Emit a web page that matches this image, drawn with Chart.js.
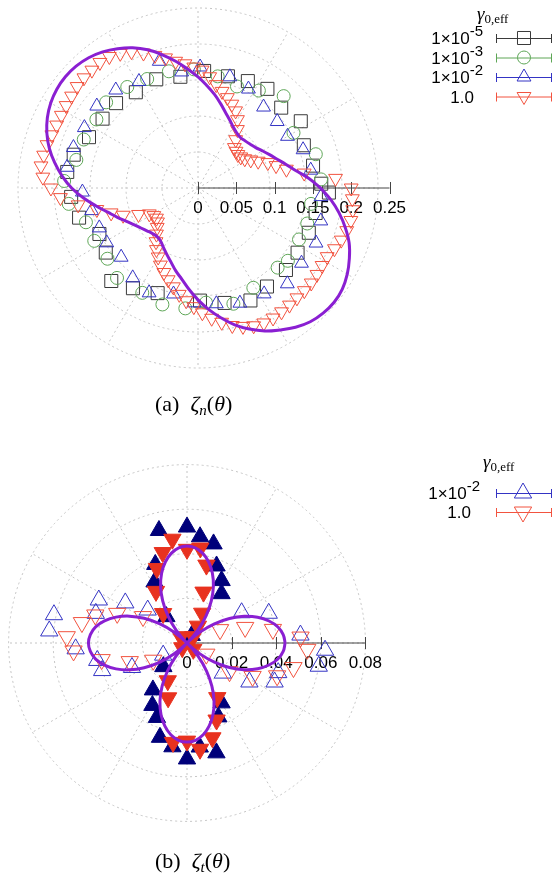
<!DOCTYPE html>
<html>
<head>
<meta charset="utf-8">
<title>zeta polar plots</title>
<script src="https://cdn.jsdelivr.net/npm/chart.js@4.4.1/dist/chart.umd.min.js"></script>
<style>
  html, body { margin: 0; padding: 0; background: #fff; }
  #wrap { position: relative; width: 556px; height: 880px; overflow: hidden; }
  canvas { position: absolute; left: 0; }
  #polarN { top: 0; }
  #polarT { top: 440px; }
  .cap { position: absolute; font-family: "Liberation Serif", "DejaVu Serif", serif; font-size: 22px; line-height: 22px; white-space: nowrap; }
  .cap sub { font-size: 15px; vertical-align: -4px; line-height: 0; }
</style>
</head>
<body>
<div id="wrap">
  <canvas id="polarN" width="556" height="440"></canvas>
  <canvas id="polarT" width="556" height="440"></canvas>
  <div class="cap" style="left:155px; top:393px">(a)&nbsp;&nbsp;<i>ζ<sub>n</sub></i>(<i>θ</i>)</div>
  <div class="cap" style="left:155px; top:850px">(b)&nbsp;&nbsp;<i>ζ<sub>t</sub></i>(<i>θ</i>)</div>
</div>
<script>
'use strict';

// ---- panel (a): zeta_n(theta), angles in degrees ----
var thetaSq = [2, 11, 22, 33, 44, 55, 65, 75, 87, 99, 111, 123, 134, 144, 155, 165, 173, 184, 194, 205, 215, 227, 237, 249, 271, 283, 295, 305, 317, 327, 338, 348, 358];
var rSq = [0.161, 0.153, 0.149, 0.160, 0.151, 0.158, 0.154, 0.151, 0.153, 0.147, 0.152, 0.149, 0.154, 0.154, 0.157, 0.168, 0.172, 0.166, 0.160, 0.142, 0.147, 0.166, 0.156, 0.147, 0.147, 0.154, 0.162, 0.157, 0.157, 0.155, 0.156, 0.157, 0.171];

var thetaCirc = [4, 16, 30, 47, 58, 69, 80, 92, 104, 115, 125, 137, 146, 157, 167, 177, 187, 197, 207, 218, 228, 242, 253, 264, 274, 287, 299, 315, 321, 333, 342, 352];
var rCirc = [0.161, 0.160, 0.144, 0.164, 0.150, 0.142, 0.148, 0.155, 0.157, 0.157, 0.161, 0.164, 0.160, 0.162, 0.163, 0.175, 0.170, 0.153, 0.152, 0.150, 0.158, 0.155, 0.159, 0.158, 0.150, 0.158, 0.149, 0.147, 0.151, 0.148, 0.150, 0.149];

var thetaTri = [9, 20, 30, 40, 51, 63, 74, 89, 98, 107, 119, 130, 141, 152, 162, 171, 182, 192, 202, 211, 222, 234, 245, 257, 268, 279, 290, 302, 313, 324, 335, 345, 356];
var rTri = [0.149, 0.146, 0.135, 0.135, 0.136, 0.145, 0.151, 0.158, 0.153, 0.173, 0.159, 0.167, 0.170, 0.168, 0.171, 0.173, 0.151, 0.142, 0.139, 0.139, 0.135, 0.145, 0.151, 0.142, 0.150, 0.153, 0.160, 0.163, 0.171, 0.167, 0.170, 0.166, 0.161];

var thetaInv = [0, 4, 8, 12, 16, 20, 24, 28, 32, 36, 40, 44, 48, 52, 56, 60, 64, 68, 72, 76, 80, 84, 88, 92, 96, 100, 104, 108, 112, 116, 120, 124, 128, 132, 136, 140, 144, 148, 152, 156, 160, 164, 168, 172, 176, 180, 184, 188, 192, 196, 200, 204, 208, 212, 216, 220, 224, 228, 232, 236, 240, 244, 248, 252, 256, 260, 264, 268, 272, 276, 280, 284, 288, 292, 296, 300, 304, 308, 312, 316, 320, 324, 328, 332, 336, 340, 344, 348, 352, 356];
var rInv = [0.200, 0.180, 0.140, 0.118, 0.106, 0.097, 0.086, 0.078, 0.072, 0.069, 0.068, 0.069, 0.071, 0.080, 0.092, 0.103, 0.112, 0.118, 0.124, 0.130, 0.137, 0.146, 0.154, 0.158, 0.163, 0.168, 0.175, 0.182, 0.190, 0.198, 0.203, 0.207, 0.208, 0.207, 0.207, 0.206, 0.204, 0.203, 0.202, 0.202, 0.203, 0.205, 0.206, 0.207, 0.203, 0.192, 0.180, 0.158, 0.135, 0.118, 0.104, 0.085, 0.072, 0.068, 0.067, 0.069, 0.074, 0.081, 0.089, 0.097, 0.104, 0.112, 0.119, 0.126, 0.133, 0.141, 0.148, 0.155, 0.163, 0.171, 0.178, 0.185, 0.190, 0.194, 0.196, 0.196, 0.195, 0.194, 0.193, 0.193, 0.193, 0.192, 0.191, 0.191, 0.195, 0.199, 0.202, 0.204, 0.204, 0.202];

var thetaFitN = [0, 5, 10, 15, 20, 25, 30, 35, 40, 45, 50, 55, 60, 65, 70, 75, 80, 85, 90, 95, 100, 105, 110, 115, 120, 125, 130, 135, 140, 145, 150, 155, 160, 165, 170, 175, 180, 185, 190, 195, 200, 205, 210, 215, 220, 225, 230, 235, 240, 245, 250, 255, 260, 265, 270, 275, 280, 285, 290, 295, 300, 305, 310, 315, 320, 325, 330, 335, 340, 345, 350, 355, 360];
var rFitN = [0.160, 0.145, 0.130, 0.119, 0.110, 0.103, 0.097, 0.092, 0.089, 0.087, 0.086, 0.088, 0.092, 0.098, 0.105, 0.114, 0.124, 0.134, 0.145, 0.156, 0.168, 0.180, 0.192, 0.202, 0.210, 0.217, 0.222, 0.225, 0.226, 0.225, 0.222, 0.217, 0.210, 0.201, 0.190, 0.178, 0.165, 0.150, 0.135, 0.122, 0.112, 0.103, 0.096, 0.091, 0.087, 0.084, 0.083, 0.085, 0.090, 0.096, 0.103, 0.112, 0.121, 0.133, 0.146, 0.159, 0.172, 0.185, 0.196, 0.206, 0.214, 0.222, 0.228, 0.231, 0.232, 0.230, 0.225, 0.218, 0.210, 0.199, 0.187, 0.174, 0.160];

var ringsN = [0.047, 0.094, 0.141, 0.188, 0.235];
var ticksN = [0, 0.05, 0.1, 0.15, 0.2, 0.25];
var tickLabelsN = ['0', '0.05', '0.1', '0.15', '0.2', '0.25'];
var legendBaseN = ['1×10', '1×10', '1×10', '1.0'];
var legendSupN = ['-5', '-3', '-2', ''];

// ---- panel (b): zeta_t(theta), negative values drawn as filled markers ----
var thetaT2 = [4, 20, 29, 55, 58, 61, 69, 75, 83, 90, 104, 112, 118, 128, 140, 147, 154, 162, 168, 175, 183, 191, 198, 204, 207, 225, 234, 241, 248, 254, 262, 270, 277, 285, 293, 300, 320, 328, 336, 342, 350, 357];
var rT2 = [0.051, 0.039, 0.028, -0.027, -0.004, -0.032, -0.037, -0.046, -0.048, -0.052, -0.052, -0.038, -0.031, -0.015, 0.023, 0.033, 0.044, 0.043, 0.061, 0.062, 0.050, 0.041, 0.040, 0.027, 0.012, -0.015, -0.026, -0.032, -0.036, -0.044, -0.047, -0.052, -0.047, -0.051, -0.036, -0.031, 0.021, 0.033, 0.043, 0.043, 0.060, 0.062];

var thetaT0 = [3, 9, 15, 22, 45, 57, 63, 72, 76, 82, 90, 98, 105, 112, 121, 129, 135, 149, 157, 163, 169, 177, 184, 191, 198, 207, 225, 243, 251, 262, 270, 277, 285, 291, 299, 315, 326, 330, 333, 340, 347, 357];
var rT0 = [0.051, 0.039, 0.027, 0.016, -0.004, -0.009, -0.015, -0.024, -0.036, -0.043, -0.042, -0.047, -0.042, -0.036, -0.027, -0.017, -0.004, 0.023, 0.034, 0.043, 0.048, 0.054, 0.051, 0.039, 0.027, 0.017, -0.003, -0.019, -0.026, -0.045, -0.044, -0.048, -0.044, -0.037, -0.028, -0.004, 0.023, 0.010, 0.033, 0.043, 0.049, 0.054];

var thetaFitT = thetaFitN;
var rFitT = [0.0440, 0.0433, 0.0414, 0.0381, 0.0337, 0.0283, 0.0220, 0.0150, 0.0076, 0,
  -0.0078, -0.0152, -0.0223, -0.0287, -0.0341, -0.0385, -0.0418, -0.0438, -0.0444,
  -0.0438, -0.0418, -0.0385, -0.0341, -0.0287, -0.0223, -0.0152, -0.0078, 0,
  0.0077, 0.0151, 0.0222, 0.0285, 0.0339, 0.0383, 0.0416, 0.0435, 0.0442,
  0.0435, 0.0416, 0.0383, 0.0339, 0.0285, 0.0222, 0.0151, 0.0077, 0,
  -0.0076, -0.0149, -0.0218, -0.0280, -0.0333, -0.0376, -0.0408, -0.0428, -0.0435,
  -0.0428, -0.0408, -0.0376, -0.0333, -0.0280, -0.0218, -0.0149, -0.0076, 0,
  0.0076, 0.0150, 0.0220, 0.0283, 0.0337, 0.0381, 0.0414, 0.0433, 0.0440];

var ringsT = [0.02, 0.04, 0.06, 0.08];
var ticksT = [0, 0.02, 0.04, 0.06, 0.08];
var tickLabelsT = ['0', '0.02', '0.04', '0.06', '0.08'];
var legendBaseT = ['1×10', '1.0'];
var legendSupT = ['-2', ''];

var BLACK = '#3a3a3a', GREEN = '#5ea657', BLUE = '#3434c4', RED = '#f2533f';
var NAVY = '#00007a', FILLRED = '#e8321f', PURPLE = '#8a1fd2';

function toXY(th, r, useAbs) {
  return th.map(function(t, i) {
    var a = t * Math.PI / 180, v = useAbs ? Math.abs(r[i]) : r[i];
    return { x: v * Math.cos(a), y: v * Math.sin(a) };
  });
}

function drawMarker(ctx, style, x, y, rad, rot) {
  ctx.beginPath();
  if (style === 'rect') {
    var s = rad * Math.SQRT1_2;
    ctx.rect(x - s, y - s, 2 * s, 2 * s);
  } else if (style === 'circle') {
    ctx.arc(x, y, rad, 0, 2 * Math.PI);
  } else {
    var a = (rot || 0) * Math.PI / 180;
    for (var i = 0; i < 3; i++) {
      var px = x + Math.sin(a) * rad, py = y - Math.cos(a) * rad;
      if (i === 0) ctx.moveTo(px, py); else ctx.lineTo(px, py);
      a += 2 * Math.PI / 3;
    }
    ctx.closePath();
  }
  ctx.stroke();
}

var polarGrid = {
  id: 'polarGrid',
  beforeDatasetsDraw: function(chart, args, opts) {
    var ctx = chart.ctx, xs = chart.scales.x, ys = chart.scales.y;
    var cx = xs.getPixelForValue(0), cy = ys.getPixelForValue(0);
    var k = xs.getPixelForValue(1) - cx;
    var rings = opts.rings, rMax = rings[rings.length - 1] * k;
    ctx.save();
    ctx.strokeStyle = '#c4c4c4';
    ctx.lineWidth = 1;
    ctx.setLineDash([2, 3]);
    rings.forEach(function(r) {
      ctx.beginPath(); ctx.arc(cx, cy, r * k, 0, 2 * Math.PI); ctx.stroke();
    });
    for (var a = 0; a < 360; a += 30) {
      var t = a * Math.PI / 180;
      ctx.beginPath(); ctx.moveTo(cx, cy);
      ctx.lineTo(cx + rMax * Math.cos(t), cy - rMax * Math.sin(t)); ctx.stroke();
    }
    ctx.setLineDash([]);
    // radial axis along theta = 0
    var ticks = opts.ticks;
    ctx.strokeStyle = '#444';
    ctx.beginPath();
    ctx.moveTo(cx + ticks[0] * k, cy);
    ctx.lineTo(cx + ticks[ticks.length - 1] * k, cy);
    ticks.forEach(function(v) {
      var px = Math.round(cx + v * k) + 0.5;
      ctx.moveTo(px, cy - 6); ctx.lineTo(px, cy + 6);
    });
    ctx.stroke();
    ctx.fillStyle = '#000';
    ctx.font = '17px "Liberation Sans", Arial, sans-serif';
    ctx.textAlign = 'center';
    ctx.textBaseline = 'middle';
    ticks.forEach(function(v, i) { ctx.fillText(opts.labels[i], cx + v * k, cy + 20); });
    ctx.restore();
  },
  afterDraw: function(chart, args, opts) {
    var lg = opts.legend, ctx = chart.ctx;
    ctx.save();
    ctx.fillStyle = '#000';
    ctx.textBaseline = 'alphabetic';
    ctx.textAlign = 'left';
    ctx.font = 'italic 19px "Liberation Serif", serif';
    ctx.fillText('γ', lg.titleX, lg.titleY + 5);
    var gw = ctx.measureText('γ').width;
    ctx.font = '13px "Liberation Serif", serif';
    ctx.fillText('0,eff', lg.titleX + gw, lg.titleY + 8);
    lg.base.forEach(function(b, i) {
      var y = lg.y0 + i * lg.dy;
      var sup = lg.sup[i], sw = 9;
      ctx.fillStyle = '#000';
      ctx.textAlign = 'right';
      if (sup) {
        ctx.font = '15px "Liberation Sans", Arial, sans-serif';
        sw = ctx.measureText(sup).width;
        ctx.fillText(sup, lg.textRight, y - 2);
      }
      ctx.font = '17px "Liberation Sans", Arial, sans-serif';
      ctx.fillText(b, lg.textRight - sw, y + 6);
      var c = lg.colors[i];
      ctx.strokeStyle = c;
      ctx.lineWidth = 1;
      ctx.beginPath();
      ctx.moveTo(lg.x0, y + 0.5); ctx.lineTo(lg.x1, y + 0.5);
      ctx.moveTo(lg.x0 + 0.5, y - 4); ctx.lineTo(lg.x0 + 0.5, y + 5);
      ctx.moveTo(lg.x1 - 0.5, y - 4); ctx.lineTo(lg.x1 - 0.5, y + 5);
      ctx.stroke();
      drawMarker(ctx, lg.styles[i], lg.xm, y, lg.radii[i], lg.rots[i]);
    });
    ctx.restore();
  }
};

function makePolar(id, cx, cy, k, datasets, grid) {
  var cv = document.getElementById(id);
  var W = cv.width, H = cv.height;
  return new Chart(cv, {
    type: 'scatter',
    data: { datasets: datasets },
    options: {
      responsive: false,
      animation: false,
      events: [],
      layout: { padding: 0, autoPadding: false },
      scales: {
        x: { type: 'linear', display: false, min: -cx / k, max: (W - cx) / k },
        y: { type: 'linear', display: false, min: -(H - cy) / k, max: cy / k }
      },
      plugins: { legend: { display: false }, tooltip: { enabled: false }, polarGrid: grid }
    },
    plugins: [polarGrid]
  });
}

function markerSet(th, r, style, radius, color, rot) {
  return {
    data: toXY(th, r, false), showLine: false, pointStyle: style, pointRadius: radius,
    pointRotation: rot || 0, pointBorderColor: color, pointBackgroundColor: 'rgba(0,0,0,0)', pointBorderWidth: 1
  };
}

function signedSet(th, r, radius, color, fillColor, rot) {
  return {
    data: toXY(th, r, true), showLine: false, pointStyle: 'triangle', pointRadius: radius, pointRotation: rot || 0,
    pointBorderColor: r.map(function(v) { return v < 0 ? fillColor : color; }),
    pointBackgroundColor: r.map(function(v) { return v < 0 ? fillColor : 'rgba(0,0,0,0)'; }),
    pointBorderWidth: 1
  };
}

function fitSet(th, r) {
  return { data: toXY(th, r, false), showLine: true, borderColor: PURPLE, borderWidth: 3, pointRadius: 0, tension: 0.4, fill: false };
}

makePolar('polarN', 198, 188, 766, [
  fitSet(thetaFitN, rFitN),
  markerSet(thetaInv, rInv, 'triangle', 8, RED, 180),
  markerSet(thetaTri, rTri, 'triangle', 8, BLUE),
  markerSet(thetaCirc, rCirc, 'circle', 6.5, GREEN),
  markerSet(thetaSq, rSq, 'rect', 9.2, BLACK)
], {
  rings: ringsN, ticks: ticksN, labels: tickLabelsN,
  legend: {
    titleX: 477, titleY: 15, y0: 38, dy: 19.5, textRight: 483, x0: 496, x1: 552, xm: 524,
    base: legendBaseN, sup: legendSupN, colors: [BLACK, GREEN, BLUE, RED],
    styles: ['rect', 'circle', 'triangle', 'triangle'], radii: [9.2, 6.5, 8, 8], rots: [0, 0, 0, 180]
  }
});

makePolar('polarT', 187, 203, 2230, [
  fitSet(thetaFitT, rFitT),
  signedSet(thetaT0, rT0, 10, RED, FILLRED, 180),
  signedSet(thetaT2, rT2, 10, BLUE, NAVY)
], {
  rings: ringsT, ticks: ticksT, labels: tickLabelsT,
  legend: {
    titleX: 483, titleY: 23, y0: 53, dy: 19, textRight: 480, x0: 496, x1: 552, xm: 523,
    base: legendBaseT, sup: legendSupT, colors: [BLUE, RED],
    styles: ['triangle', 'triangle'], radii: [10, 10], rots: [0, 180]
  }
});
</script>
</body>
</html>
